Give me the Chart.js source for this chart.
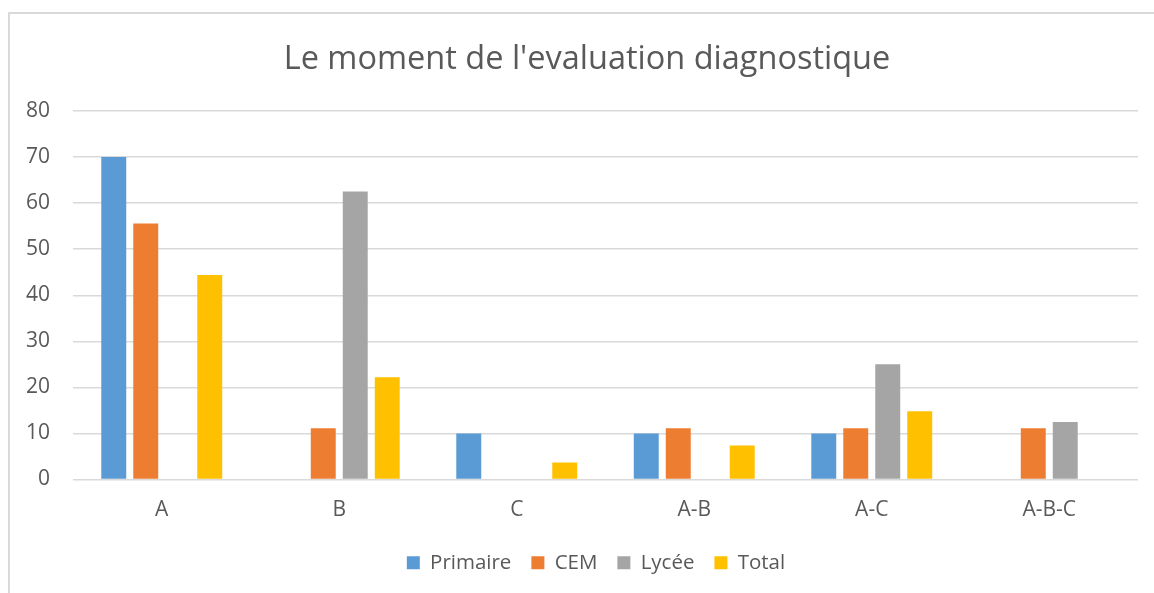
<!DOCTYPE html>
<html>
<head>
<meta charset="utf-8">
<script src="https://cdn.jsdelivr.net/npm/chart.js@4.4.0/dist/chart.umd.min.js"></script>
<style>
  html, body { margin: 0; padding: 0; background: #ffffff; }
  #wrap { position: relative; width: 1154px; height: 593px; overflow: hidden; }
  #frame { position: absolute; left: 8px; top: 12px; width: 1200px; height: 700px;
           border-top: 2px solid #D9D9D9; border-left: 2px solid #D9D9D9; box-sizing: border-box; }
  canvas { position: absolute; left: 0; top: 0; }
</style>
</head>
<body>
<div id="wrap">
  <div id="frame"></div>
  <canvas id="c" width="1154" height="593"></canvas>
</div>
<script>
const titleText = "Le moment de l'evaluation diagnostique";
const categories = ["A", "B", "C", "A-B", "A-C", "A-B-C"];
const primaire = [70, 0, 10, 10, 10, 0];
const cem      = [55.6, 11.1, 0, 11.1, 11.1, 11.1];
const lycee    = [0, 62.5, 0, 0, 25, 12.5];
const total    = [44.4, 22.2, 3.7, 7.4, 14.8, 0];
const yMin = 0, yMax = 80, yStep = 10;

const FONT = "'Open Sans', 'Noto Sans', sans-serif";
const TXT = "#595959";

const ds = (label, data, color) => ({
  label, data, backgroundColor: color, borderWidth: 0,
  categoryPercentage: 0.721, barPercentage: 0.78
});

const shiftBoxes = {
  id: 'shiftBoxes',
  afterLayout(chart) {
    if (chart.legend) { chart.legend.left += 27; chart.legend.right += 27; }
    if (chart.titleBlock) { chart.titleBlock.left += 18; chart.titleBlock.right += 18; }
  }
};

new Chart(document.getElementById('c'), {
  type: 'bar',
  data: {
    labels: categories,
    datasets: [
      ds("Primaire", primaire, "#5B9BD5"),
      ds("CEM", cem, "#ED7D31"),
      ds("Lycée", lycee, "#A5A5A5"),
      ds("Total", total, "#FFC000")
    ]
  },
  plugins: [shiftBoxes],
  options: {
    responsive: false,
    animation: false,
    layout: { padding: { left: 0, right: 16, top: 40, bottom: 10 } },
    plugins: {
      title: {
        display: true, text: titleText, color: TXT,
        font: { family: FONT, size: 32.5, weight: 'normal' },
        padding: { top: 0, bottom: 32 }
      },
      legend: {
        position: 'bottom',
        labels: {
          color: TXT, font: { family: FONT, size: 20.5 },
          boxWidth: 13, boxHeight: 13, padding: 20
        }
      },
      tooltip: { enabled: false }
    },
    scales: {
      x: {
        afterFit: (s) => { s.height = 53; },
        grid: { display: false },
        border: { display: false },
        ticks: { color: TXT, font: { family: FONT, size: 21 }, padding: 10 }
      },
      y: {
        min: yMin, max: yMax,
        afterFit: (s) => { s.width = 73; },
        grid: { color: "#D9D9D9", lineWidth: 1.5, drawTicks: false },
        border: { display: false },
        ticks: { stepSize: yStep, color: TXT, font: { family: FONT, size: 21 }, padding: 23 }
      }
    }
  }
});
</script>
</body>
</html>
